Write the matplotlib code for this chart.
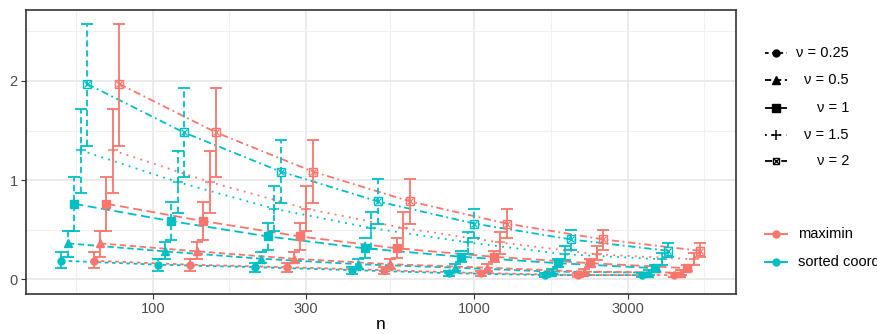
import numpy as np
import matplotlib
matplotlib.use("Agg")
import matplotlib.pyplot as plt
from matplotlib.lines import Line2D

plt.rcParams['font.family'] = ['Liberation Sans', 'DejaVu Sans']

# ---------------- data ----------------
n_vals = [64, 128, 256, 512, 1024, 2048, 4096]
nu_labels = ['ν = 0.25', 'ν = 0.5', 'ν = 1', 'ν = 1.5', 'ν = 2']
methods = ['maximin', 'sorted coord']

# mean and error bar ends per nu; both methods sit at the same heights
mean_025 = [0.185, 0.145, 0.12, 0.09, 0.06, 0.04, 0.04]
lo_025 = [0.11, 0.08, 0.07, 0.05, 0.03, 0.02, 0.02]
hi_025 = [0.27, 0.205, 0.16, 0.12, 0.08, 0.06, 0.06]

mean_05 = [0.36, 0.28, 0.205, 0.15, 0.115, 0.075, 0.065]
lo_05 = [0.22, 0.20, 0.165, 0.10, 0.08, 0.05, 0.04]
hi_05 = [0.49, 0.37, 0.275, 0.20, 0.15, 0.10, 0.09]

mean_1 = [0.76, 0.585, 0.43, 0.31, 0.225, 0.16, 0.11]
lo_1 = [0.49, 0.39, 0.29, 0.21, 0.17, 0.12, 0.08]
hi_1 = [1.03, 0.78, 0.57, 0.41, 0.28, 0.20, 0.14]

mean_15 = [1.30, 0.98, 0.71, 0.515, 0.37, 0.25, 0.20]
lo_15 = [0.87, 0.67, 0.49, 0.30, 0.25, 0.19, 0.14]
hi_15 = [1.72, 1.29, 0.94, 0.68, 0.48, 0.33, 0.26]

mean_2 = [1.97, 1.48, 1.085, 0.785, 0.56, 0.40, 0.285]
lo_2 = [1.34, 1.03, 0.77, 0.56, 0.41, 0.29, 0.22]
hi_2 = [2.58, 1.93, 1.40, 1.01, 0.71, 0.50, 0.36]

means = [mean_025, mean_05, mean_1, mean_15, mean_2]
lows = [lo_025, lo_05, lo_1, lo_15, lo_2]
highs = [hi_025, hi_05, hi_1, hi_15, hi_2]

# ---------------- styles ----------------
colors = {'maximin': '#F8766D', 'sorted coord': '#00BFC4'}
bar_styles = {'maximin': '-', 'sorted coord': (0, (3.5, 2))}
line_styles = [(0, (2, 2)), (0, (3.5, 2)), (0, (5, 2.5)), (0, (1, 3)), (0, (4, 2, 1, 2))]
markers = ['o', '^', 's', '+', 's']
msizes = [5, 5.5, 5.5, 7.5, 6]
LW = 1.3

fig = plt.figure(figsize=(8.78, 3.34), dpi=100)
W, H = 878, 334
ax = fig.add_axes([26 / W, (H - 293.7) / H, (736 - 26) / W, (293.7 - 10) / H])

dodge = 0.02
log_n = np.log10(n_vals)
for mi, method in enumerate(['sorted coord', 'maximin']):
    col = colors[method]
    for ni in range(5):
        k = mi * 5 + ni
        x = 10 ** (log_n + (k - 4.5) * dodge)
        m = np.array(means[ni])
        lo = np.array(lows[ni])
        hi = np.array(highs[ni])
        ax.plot(x, m, color=col, lw=LW, ls=line_styles[ni], zorder=2)
        eb = ax.errorbar(x, m, yerr=[m - lo, hi - m], fmt='none', ecolor=col,
                         elinewidth=LW, capsize=4, capthick=LW, zorder=3)
        eb[2][0].set_linestyle(bar_styles[method])
        if ni == 4:
            ax.plot(x, m, ls='none', marker='s', ms=msizes[ni], mfc='none',
                    mec=col, mew=1.0, zorder=4)
            ax.plot(x, m, ls='none', marker='x', ms=msizes[ni] * 0.8, mec=col,
                    mew=0.9, zorder=4)
        elif ni == 3:
            ax.plot(x, m, ls='none', marker='+', ms=msizes[ni], mec=col,
                    mew=1.1, zorder=4)
        else:
            ax.plot(x, m, ls='none', marker=markers[ni], ms=msizes[ni],
                    color=col, zorder=4)

ax.set_xscale('log')
ax.set_xlim(10 ** 1.606, 10 ** 3.814)
ax.set_ylim(-0.148, 2.717)

xt = [100, 300, 1000, 3000]
ax.set_xticks(xt)
ax.set_xticklabels([str(v) for v in xt])
lx = np.log10(xt)
ext = np.concatenate([[lx[0] - (lx[1] - lx[0])], lx, [lx[-1] + (lx[-1] - lx[-2])]])
ax.set_xticks(10 ** ((ext[:-1] + ext[1:]) / 2), minor=True)
ax.set_yticks([0, 1, 2])
ax.set_yticks([0.5, 1.5, 2.5], minor=True)

ax.grid(True, which='major', color='#E8E8E8', lw=1.2, zorder=0)
ax.grid(True, which='minor', color='#F0F0F0', lw=0.8, zorder=0)
ax.set_axisbelow(True)
ax.tick_params(which='major', length=3.5, width=0.8, color='#333333',
               labelsize=10.5, labelcolor='#4D4D4D', pad=2.5)
ax.tick_params(which='minor', length=0)
for s in ax.spines.values():
    s.set_color('#333333')
    s.set_linewidth(1.2)

ax.set_xlabel('n', fontsize=12.5, labelpad=1)

# ---------------- legends (drawn manually, labels right-aligned) ----------------
def fx(px):
    return px / W

def fy(py):
    return 1 - py / H

leg_y = [53, 80, 107.5, 135, 161.5]
for ni, lab in enumerate(nu_labels):
    y = fy(leg_y[ni])
    fig.add_artist(Line2D([fx(765), fx(787)], [y, y], color='black', lw=LW,
                          ls=line_styles[ni]))
    if ni == 4:
        fig.add_artist(Line2D([fx(776)], [y], ls='none', marker='s', ms=5,
                              mfc='none', mec='black', mew=1.0))
        fig.add_artist(Line2D([fx(776)], [y], ls='none', marker='x', ms=4,
                              mec='black', mew=0.9))
    elif ni == 3:
        fig.add_artist(Line2D([fx(776)], [y], ls='none', marker='+', ms=7.5,
                              mec='black', mew=1.1))
    else:
        fig.add_artist(Line2D([fx(776)], [y], ls='none', marker=markers[ni],
                              ms=msizes[ni], color='black'))
    fig.text(fx(849), y, lab, ha='right', va='center', fontsize=10.5)

meth_y = [233.5, 261.5]
for mi, method in enumerate(methods):
    y = fy(meth_y[mi])
    fig.add_artist(Line2D([fx(765), fx(787)], [y, y], color=colors[method], lw=1.4))
    fig.add_artist(Line2D([fx(776)], [y], ls='none', marker='o', ms=5,
                          color=colors[method]))
    fig.text(fx(798), y, method, ha='left', va='center', fontsize=10.5)

fig.savefig('out.png', dpi=100)
